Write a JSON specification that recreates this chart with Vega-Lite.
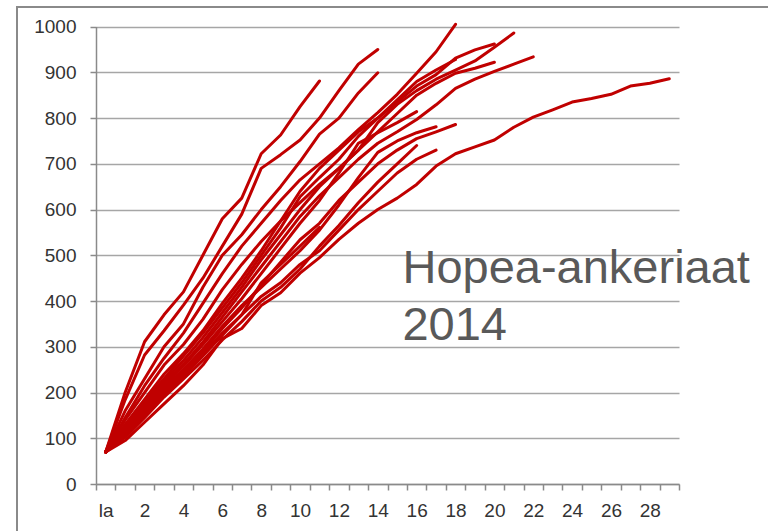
{
  "$schema": "https://vega.github.io/schema/vega-lite/v6.json",
  "autosize": {"type": "none"},
  "width": 752,
  "height": 525,
  "padding": {"left": 17, "top": 7, "right": -1, "bottom": -1},
  "background": "white",
  "config": {
    "view": {"stroke": "#8a8a8a", "strokeWidth": 2},
    "axis": {"labelFont": "Liberation Sans", "labelFontSize": 19, "labelColor": "#333333", "domainColor": "#8a8a8a", "tickColor": "#8a8a8a", "gridColor": "#a6a6a6", "domainWidth": 1.5, "tickWidth": 1.5, "gridWidth": 1.3, "title": null}
  },
  "layer": [
    {
      "data": {"values": [
        {"s":"A","x":"la","v":70},{"s":"A","x":"1","v":200},{"s":"A","x":"2","v":311},{"s":"A","x":"3","v":370},{"s":"A","x":"4","v":420},{"s":"A","x":"5","v":500},{"s":"A","x":"6","v":580},{"s":"A","x":"7","v":625},{"s":"A","x":"8","v":722},{"s":"A","x":"9","v":763},{"s":"A","x":"10","v":825},{"s":"A","x":"11","v":881},
        {"s":"B","x":"la","v":70},{"s":"B","x":"1","v":184},{"s":"B","x":"2","v":282},{"s":"B","x":"3","v":335},{"s":"B","x":"4","v":391},{"s":"B","x":"5","v":450},{"s":"B","x":"6","v":520},{"s":"B","x":"7","v":590},{"s":"B","x":"8","v":690},{"s":"B","x":"9","v":720},{"s":"B","x":"10","v":752},{"s":"B","x":"11","v":800},{"s":"B","x":"12","v":860},{"s":"B","x":"13","v":918},{"s":"B","x":"14","v":950},
        {"s":"C","x":"la","v":70},{"s":"C","x":"1","v":160},{"s":"C","x":"2","v":230},{"s":"C","x":"3","v":300},{"s":"C","x":"4","v":350},{"s":"C","x":"5","v":430},{"s":"C","x":"6","v":500},{"s":"C","x":"7","v":545},{"s":"C","x":"8","v":600},{"s":"C","x":"9","v":650},{"s":"C","x":"10","v":705},{"s":"C","x":"11","v":765},{"s":"C","x":"12","v":800},{"s":"C","x":"13","v":855},{"s":"C","x":"14","v":899},
        {"s":"D","x":"la","v":70},{"s":"D","x":"1","v":145},{"s":"D","x":"2","v":215},{"s":"D","x":"3","v":275},{"s":"D","x":"4","v":330},{"s":"D","x":"5","v":395},{"s":"D","x":"6","v":460},{"s":"D","x":"7","v":520},{"s":"D","x":"8","v":570},{"s":"D","x":"9","v":620},{"s":"D","x":"10","v":665},{"s":"D","x":"11","v":700},{"s":"D","x":"12","v":735},{"s":"D","x":"13","v":775},{"s":"D","x":"14","v":812},{"s":"D","x":"15","v":852},{"s":"D","x":"16","v":898},{"s":"D","x":"17","v":945},{"s":"D","x":"18","v":1005},
        {"s":"E","x":"la","v":70},{"s":"E","x":"1","v":140},{"s":"E","x":"2","v":200},{"s":"E","x":"3","v":260},{"s":"E","x":"4","v":305},{"s":"E","x":"5","v":360},{"s":"E","x":"6","v":425},{"s":"E","x":"7","v":480},{"s":"E","x":"8","v":530},{"s":"E","x":"9","v":575},{"s":"E","x":"10","v":615},{"s":"E","x":"11","v":655},{"s":"E","x":"12","v":690},{"s":"E","x":"13","v":730},{"s":"E","x":"14","v":790},{"s":"E","x":"15","v":830},{"s":"E","x":"16","v":860},{"s":"E","x":"17","v":885},{"s":"E","x":"18","v":905},{"s":"E","x":"19","v":925},{"s":"E","x":"20","v":955},{"s":"E","x":"21","v":986},
        {"s":"M","x":"la","v":70},{"s":"M","x":"1","v":130},{"s":"M","x":"2","v":185},{"s":"M","x":"3","v":240},{"s":"M","x":"4","v":285},{"s":"M","x":"5","v":335},{"s":"M","x":"6","v":395},{"s":"M","x":"7","v":450},{"s":"M","x":"8","v":510},{"s":"M","x":"9","v":575},{"s":"M","x":"10","v":640},{"s":"M","x":"11","v":690},{"s":"M","x":"12","v":730},{"s":"M","x":"13","v":770},{"s":"M","x":"14","v":800},{"s":"M","x":"15","v":835},{"s":"M","x":"16","v":870},{"s":"M","x":"17","v":895},{"s":"M","x":"18","v":931},{"s":"M","x":"19","v":949},{"s":"M","x":"20","v":962},
        {"s":"J","x":"la","v":70},{"s":"J","x":"1","v":125},{"s":"J","x":"2","v":180},{"s":"J","x":"3","v":230},{"s":"J","x":"4","v":280},{"s":"J","x":"5","v":330},{"s":"J","x":"6","v":385},{"s":"J","x":"7","v":440},{"s":"J","x":"8","v":500},{"s":"J","x":"9","v":560},{"s":"J","x":"10","v":628},{"s":"J","x":"11","v":670},{"s":"J","x":"12","v":710},{"s":"J","x":"13","v":760},{"s":"J","x":"14","v":800},{"s":"J","x":"15","v":840},{"s":"J","x":"16","v":880},{"s":"J","x":"17","v":905},{"s":"J","x":"18","v":928},
        {"s":"N","x":"la","v":70},{"s":"N","x":"1","v":120},{"s":"N","x":"2","v":175},{"s":"N","x":"3","v":225},{"s":"N","x":"4","v":270},{"s":"N","x":"5","v":320},{"s":"N","x":"6","v":375},{"s":"N","x":"7","v":430},{"s":"N","x":"8","v":490},{"s":"N","x":"9","v":545},{"s":"N","x":"10","v":600},{"s":"N","x":"11","v":650},{"s":"N","x":"12","v":690},{"s":"N","x":"13","v":730},{"s":"N","x":"14","v":770},{"s":"N","x":"15","v":810},{"s":"N","x":"16","v":850},{"s":"N","x":"17","v":876},{"s":"N","x":"18","v":898},{"s":"N","x":"19","v":909},{"s":"N","x":"20","v":922},
        {"s":"O","x":"la","v":70},{"s":"O","x":"1","v":118},{"s":"O","x":"2","v":170},{"s":"O","x":"3","v":220},{"s":"O","x":"4","v":262},{"s":"O","x":"5","v":310},{"s":"O","x":"6","v":365},{"s":"O","x":"7","v":420},{"s":"O","x":"8","v":475},{"s":"O","x":"9","v":530},{"s":"O","x":"10","v":585},{"s":"O","x":"11","v":630},{"s":"O","x":"12","v":670},{"s":"O","x":"13","v":710},{"s":"O","x":"14","v":745},{"s":"O","x":"15","v":770},{"s":"O","x":"16","v":797},{"s":"O","x":"17","v":829},{"s":"O","x":"18","v":865},{"s":"O","x":"19","v":885},{"s":"O","x":"20","v":902},{"s":"O","x":"21","v":918},{"s":"O","x":"22","v":934},
        {"s":"G","x":"la","v":70},{"s":"G","x":"1","v":115},{"s":"G","x":"2","v":165},{"s":"G","x":"3","v":215},{"s":"G","x":"4","v":258},{"s":"G","x":"5","v":305},{"s":"G","x":"6","v":355},{"s":"G","x":"7","v":405},{"s":"G","x":"8","v":460},{"s":"G","x":"9","v":515},{"s":"G","x":"10","v":570},{"s":"G","x":"11","v":620},{"s":"G","x":"12","v":680},{"s":"G","x":"13","v":745},{"s":"G","x":"14","v":768},{"s":"G","x":"15","v":790},{"s":"G","x":"16","v":814},
        {"s":"H","x":"la","v":70},{"s":"H","x":"1","v":112},{"s":"H","x":"2","v":160},{"s":"H","x":"3","v":210},{"s":"H","x":"4","v":250},{"s":"H","x":"5","v":295},{"s":"H","x":"6","v":345},{"s":"H","x":"7","v":390},{"s":"H","x":"8","v":430},{"s":"H","x":"9","v":470},{"s":"H","x":"10","v":510},{"s":"H","x":"11","v":555},{"s":"H","x":"12","v":610},{"s":"H","x":"13","v":670},{"s":"H","x":"14","v":725},{"s":"H","x":"15","v":750},{"s":"H","x":"16","v":768},{"s":"H","x":"17","v":781},
        {"s":"L","x":"la","v":70},{"s":"L","x":"1","v":110},{"s":"L","x":"2","v":158},{"s":"L","x":"3","v":205},{"s":"L","x":"4","v":245},{"s":"L","x":"5","v":290},{"s":"L","x":"6","v":340},{"s":"L","x":"7","v":385},{"s":"L","x":"8","v":435},{"s":"L","x":"9","v":485},{"s":"L","x":"10","v":534},{"s":"L","x":"11","v":570},{"s":"L","x":"12","v":620},{"s":"L","x":"13","v":660},{"s":"L","x":"14","v":700},{"s":"L","x":"15","v":730},{"s":"L","x":"16","v":755},{"s":"L","x":"17","v":770},{"s":"L","x":"18","v":786},
        {"s":"I","x":"la","v":70},{"s":"I","x":"1","v":108},{"s":"I","x":"2","v":155},{"s":"I","x":"3","v":200},{"s":"I","x":"4","v":240},{"s":"I","x":"5","v":285},{"s":"I","x":"6","v":330},{"s":"I","x":"7","v":370},{"s":"I","x":"8","v":410},{"s":"I","x":"9","v":440},{"s":"I","x":"10","v":480},{"s":"I","x":"11","v":510},{"s":"I","x":"12","v":555},{"s":"I","x":"13","v":600},{"s":"I","x":"14","v":640},{"s":"I","x":"15","v":680},{"s":"I","x":"16","v":710},{"s":"I","x":"17","v":730},
        {"s":"F","x":"la","v":70},{"s":"F","x":"1","v":105},{"s":"F","x":"2","v":150},{"s":"F","x":"3","v":195},{"s":"F","x":"4","v":235},{"s":"F","x":"5","v":280},{"s":"F","x":"6","v":325},{"s":"F","x":"7","v":370},{"s":"F","x":"8","v":440},{"s":"F","x":"9","v":480},{"s":"F","x":"10","v":520},{"s":"F","x":"11","v":561},
        {"s":"Q","x":"la","v":70},{"s":"Q","x":"1","v":102},{"s":"Q","x":"2","v":145},{"s":"Q","x":"3","v":190},{"s":"Q","x":"4","v":230},{"s":"Q","x":"5","v":270},{"s":"Q","x":"6","v":315},{"s":"Q","x":"7","v":355},{"s":"Q","x":"8","v":400},{"s":"Q","x":"9","v":430},{"s":"Q","x":"10","v":470},{"s":"Q","x":"11","v":520},{"s":"Q","x":"12","v":565},{"s":"Q","x":"13","v":615},{"s":"Q","x":"14","v":660},{"s":"Q","x":"15","v":700},{"s":"Q","x":"16","v":740},
        {"s":"P","x":"la","v":70},{"s":"P","x":"1","v":95},{"s":"P","x":"2","v":135},{"s":"P","x":"3","v":175},{"s":"P","x":"4","v":215},{"s":"P","x":"5","v":260},{"s":"P","x":"6","v":318},{"s":"P","x":"7","v":340},{"s":"P","x":"8","v":390},{"s":"P","x":"9","v":418},{"s":"P","x":"10","v":461},{"s":"P","x":"11","v":495},{"s":"P","x":"12","v":535},{"s":"P","x":"13","v":570},{"s":"P","x":"14","v":600},{"s":"P","x":"15","v":625},{"s":"P","x":"16","v":655},{"s":"P","x":"17","v":695},{"s":"P","x":"18","v":722},{"s":"P","x":"19","v":737},{"s":"P","x":"20","v":752},{"s":"P","x":"21","v":780},{"s":"P","x":"22","v":802},{"s":"P","x":"23","v":818},{"s":"P","x":"24","v":835},{"s":"P","x":"25","v":843},{"s":"P","x":"26","v":852},{"s":"P","x":"27","v":870},{"s":"P","x":"28","v":876},{"s":"P","x":"29","v":886}
      ]},
      "mark": {"type": "line", "color": "#c00000", "strokeWidth": 3, "strokeJoin": "round", "strokeCap": "round"},
      "encoding": {
        "x": {
          "field": "x", "type": "ordinal", "sort": null, "bandPosition": 0.5,
          "scale": {"type": "band", "domain": ["la","1","2","3","4","5","6","7","8","9","10","11","12","13","14","15","16","17","18","19","20","21","22","23","24","25","26","27","28","29"], "range": [79, 662], "paddingInner": 0, "paddingOuter": 0},
          "axis": {"orient": "bottom", "offset": -48, "tickBand": "extent", "tickSize": 6, "labelAngle": 0, "labelPadding": 11, "labelOverlap": false, "grid": false,
                   "labelExpr": "datum.value == 'la' || toNumber(datum.value) % 2 == 0 ? datum.label : ''"}
        },
        "y": {
          "field": "v", "type": "quantitative",
          "scale": {"domain": [0, 1000], "range": [477, 19.6], "nice": false},
          "axis": {"orient": "left", "offset": -79, "values": [0,100,200,300,400,500,600,700,800,900,1000], "format": "d", "tickSize": 6, "labelPadding": 14, "grid": true}
        },
        "detail": {"field": "s"}
      }
    },
    {
      "data": {"values": [{"t": ["Hopea-ankeriaat", "2014"]}]},
      "mark": {"type": "text", "font": "Liberation Sans", "fontSize": 47, "color": "#595959", "align": "left", "baseline": "alphabetic", "lineHeight": 57, "dx": -4.5},
      "encoding": {
        "x": {"datum": "16", "bandPosition": 0},
        "y": {"datum": 440},
        "text": {"field": "t"}
      }
    }
  ]
}
